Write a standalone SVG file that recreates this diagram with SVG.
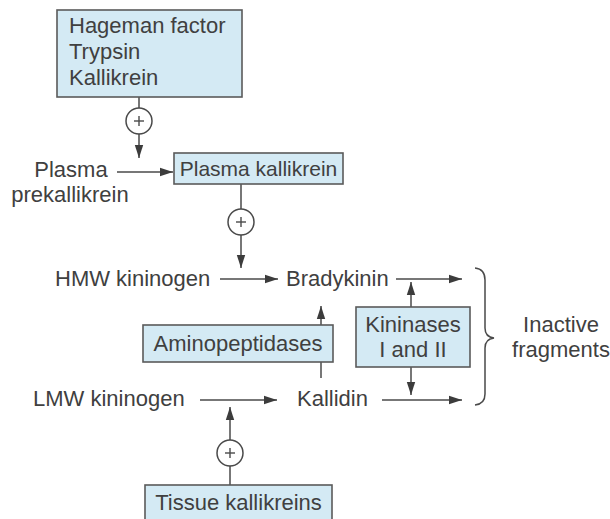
<svg xmlns="http://www.w3.org/2000/svg" width="610" height="519" viewBox="0 0 610 519">
<defs>
<style>
.box{fill:#d4eaf4;stroke:#5a5a5a;stroke-width:1.6}
.t{font-family:"Liberation Sans",Arial,sans-serif;font-size:22px;fill:#404040}
.ln{stroke:#4a4a4a;stroke-width:1.5;fill:none}
.circ{fill:#ffffff;stroke:#4a4a4a;stroke-width:1.5}
.plus{stroke:#4a4a4a;stroke-width:1.4}
</style>
<marker id="ah" markerUnits="userSpaceOnUse" markerWidth="14" markerHeight="10" refX="13" refY="5" orient="auto">
<path d="M0,0.8 L13,5 L0,9.2 Z" fill="#3c3c3c"/>
</marker>
</defs>
<rect width="610" height="519" fill="#ffffff"/>

<g id="connectors">
<line class="ln" x1="139" y1="97" x2="139" y2="158" marker-end="url(#ah)"/>
<line class="ln" x1="117" y1="172" x2="173" y2="172" marker-end="url(#ah)"/>
<line class="ln" x1="241" y1="184" x2="241" y2="268" marker-end="url(#ah)"/>
<line class="ln" x1="220" y1="279" x2="278" y2="279" marker-end="url(#ah)"/>
<line class="ln" x1="396" y1="279" x2="462" y2="279" marker-end="url(#ah)"/>
<line class="ln" x1="321" y1="378" x2="321" y2="306" marker-end="url(#ah)"/>
<line class="ln" x1="411" y1="307" x2="411" y2="282" marker-end="url(#ah)"/>
<line class="ln" x1="411" y1="367" x2="411" y2="395" marker-end="url(#ah)"/>
<line class="ln" x1="200" y1="400" x2="277" y2="400" marker-end="url(#ah)"/>
<line class="ln" x1="382" y1="400" x2="462" y2="400" marker-end="url(#ah)"/>
<line class="ln" x1="230" y1="485" x2="230" y2="407" marker-end="url(#ah)"/>
<path class="ln" d="M475,268 Q485,269 485,280 L485,328 Q485,337 494,338 Q485,339 485,348 L485,394 Q485,404 475,405"/>
<circle class="circ" cx="139" cy="121" r="13"/>
<line class="plus" x1="134" y1="121" x2="144" y2="121"/><line class="plus" x1="139" y1="116" x2="139" y2="126"/>
<circle class="circ" cx="241" cy="222" r="13"/>
<line class="plus" x1="236" y1="222" x2="246" y2="222"/><line class="plus" x1="241" y1="217" x2="241" y2="227"/>
<circle class="circ" cx="230" cy="453" r="13"/>
<line class="plus" x1="225" y1="453" x2="235" y2="453"/><line class="plus" x1="230" y1="448" x2="230" y2="458"/>
</g>

<g id="activators">
<rect class="box" x="57" y="10" width="185" height="87"/>
<text class="t" x="69" y="33">Hageman factor</text>
<text class="t" x="69" y="59">Trypsin</text>
<text class="t" x="69" y="85">Kallikrein</text>
</g>
<g id="plasma-prekallikrein">
<text class="t" x="71" y="177" text-anchor="middle">Plasma</text>
<text class="t" x="70" y="202" text-anchor="middle">prekallikrein</text>
</g>
<g id="plasma-kallikrein">
<rect class="box" x="174" y="153" width="169" height="31"/>
<text class="t" x="258.5" y="176" text-anchor="middle" style="font-size:21px">Plasma kallikrein</text>
</g>
<g id="hmw-kininogen">
<text class="t" x="55" y="286">HMW kininogen</text>
</g>
<g id="bradykinin">
<text class="t" x="286" y="286">Bradykinin</text>
</g>
<g id="aminopeptidases">
<rect class="box" x="143" y="325" width="190" height="37"/>
<text class="t" x="238" y="351" text-anchor="middle">Aminopeptidases</text>
</g>
<g id="kininases">
<rect class="box" x="356" y="307" width="114" height="60"/>
<text class="t" x="413" y="332" text-anchor="middle">Kininases</text>
<text class="t" x="413" y="357" text-anchor="middle">I and II</text>
</g>
<g id="inactive-fragments">
<text class="t" x="561" y="332" text-anchor="middle">Inactive</text>
<text class="t" x="561" y="357" text-anchor="middle">fragments</text>
</g>
<g id="lmw-kininogen">
<text class="t" x="33" y="406">LMW kininogen</text>
</g>
<g id="kallidin">
<text class="t" x="297" y="406">Kallidin</text>
</g>
<g id="tissue-kallikreins">
<rect class="box" x="145" y="485" width="187" height="40"/>
<text class="t" x="238.5" y="510" text-anchor="middle">Tissue kallikreins</text>
</g>
</svg>
